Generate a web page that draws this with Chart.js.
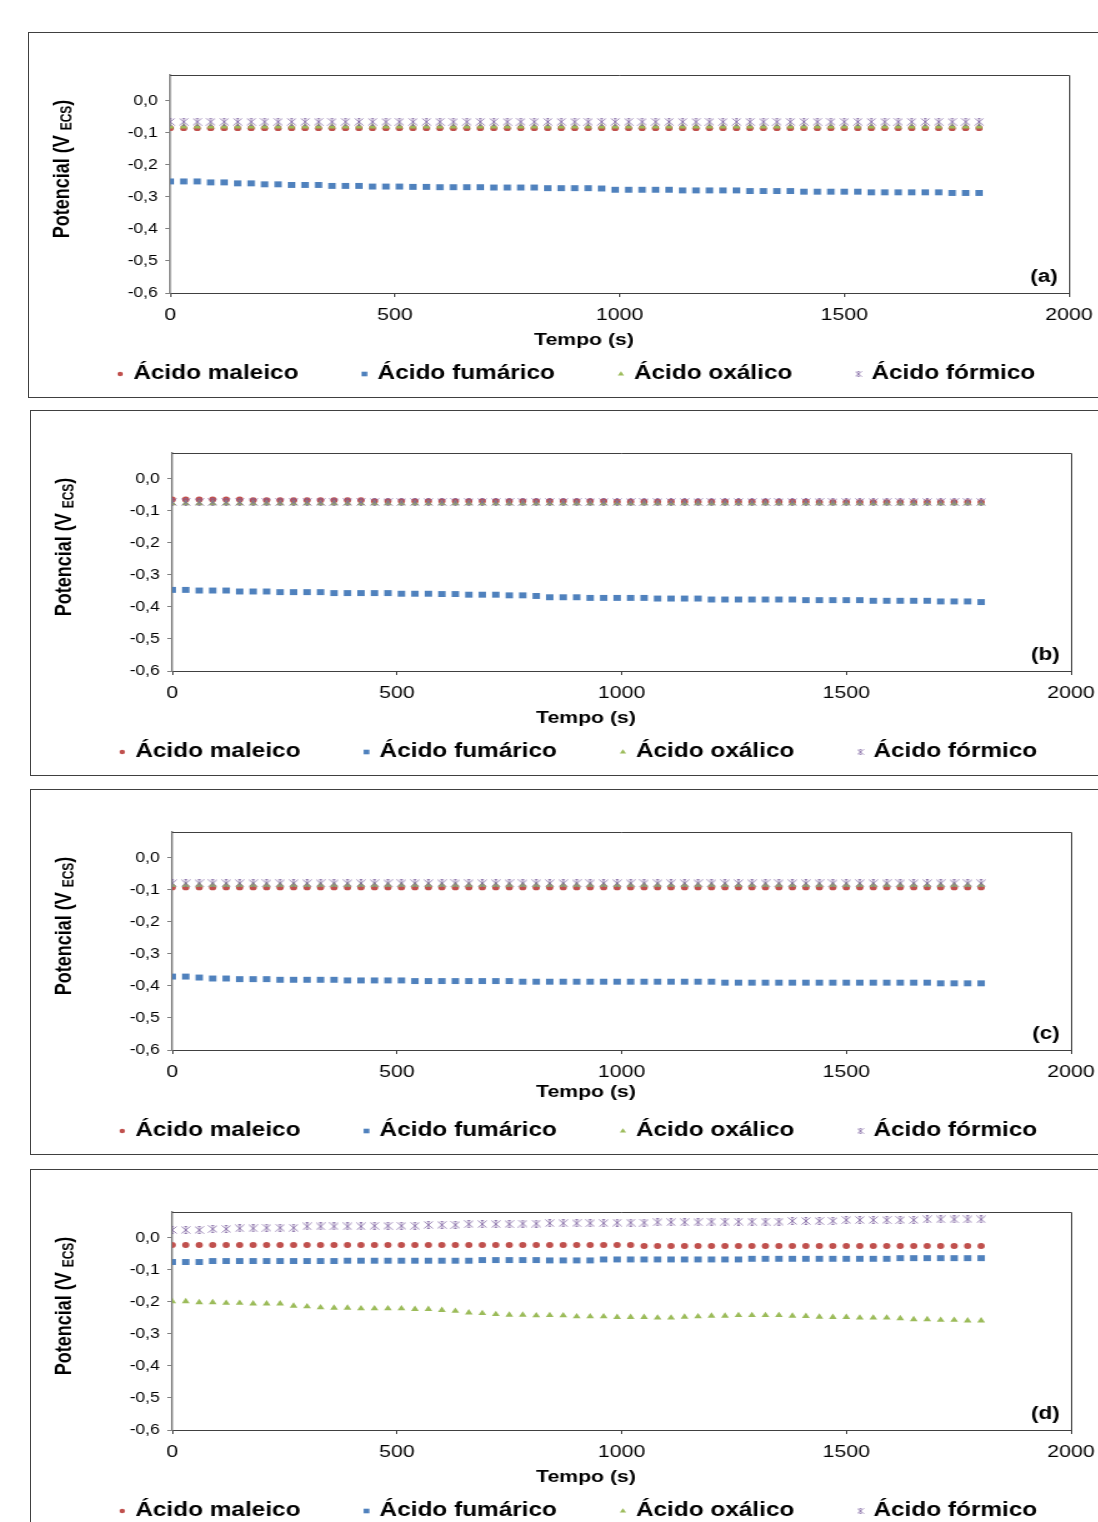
<!DOCTYPE html>
<html>
<head>
<meta charset="utf-8">
<script src="https://cdn.jsdelivr.net/npm/chart.js@4.4.1/dist/chart.umd.min.js"></script>
<style>
  html, body { margin: 0; padding: 0; background: #fff; overflow: hidden; }
  body { width: 1098px; height: 1522px; position: relative; }
  .panel { position: absolute; width: 1080px; height: 364px; border: 1px solid #404040; overflow: hidden; background: #fff; }
  .panel canvas { position: absolute; left: 0; top: 0; }
</style>
</head>
<body>
<div class="panel" style="left:28px;top:32px"><canvas id="chartA" width="864" height="364" style="width:1080px;height:364px"></canvas></div>
<div class="panel" style="left:30px;top:410px"><canvas id="chartB" width="864" height="364" style="width:1080px;height:364px"></canvas></div>
<div class="panel" style="left:30px;top:789px"><canvas id="chartC" width="864" height="364" style="width:1080px;height:364px"></canvas></div>
<div class="panel" style="left:30px;top:1169px"><canvas id="chartD" width="864" height="364" style="width:1080px;height:364px"></canvas></div>
<script>
// tempo (s) – uma leitura a cada 30 s
const tempo = [0, 30, 60, 90, 120, 150, 180, 210, 240, 270, 300, 330, 360, 390, 420, 450, 480, 510, 540, 570,
  600, 630, 660, 690, 720, 750, 780, 810, 840, 870, 900, 930, 960, 990, 1020, 1050, 1080, 1110, 1140, 1170,
  1200, 1230, 1260, 1290, 1320, 1350, 1380, 1410, 1440, 1470, 1500, 1530, 1560, 1590, 1620, 1650, 1680, 1710,
  1740, 1770, 1800];

const seriesNames = ['Ácido maleico', 'Ácido fumárico', 'Ácido oxálico', 'Ácido fórmico'];
const yTicks = [-0.6, -0.5, -0.4, -0.3, -0.2, -0.1, 0.0];
const xTicks = [0, 500, 1000, 1500, 2000];

// (a)
const maleicoA = [-0.086, -0.086, -0.086, -0.086, -0.086, -0.086, -0.086, -0.086, -0.086, -0.086, -0.086, -0.086,
  -0.086, -0.086, -0.086, -0.086, -0.086, -0.086, -0.086, -0.086, -0.086, -0.086, -0.086, -0.086, -0.086, -0.086,
  -0.086, -0.086, -0.086, -0.086, -0.086, -0.086, -0.086, -0.086, -0.086, -0.086, -0.086, -0.086, -0.086, -0.086,
  -0.086, -0.086, -0.086, -0.086, -0.086, -0.086, -0.086, -0.086, -0.086, -0.086, -0.086, -0.086, -0.086, -0.086,
  -0.086, -0.086, -0.086, -0.086, -0.086, -0.086, -0.086];
const fumaricoA = [-0.252, -0.252, -0.252, -0.255, -0.255, -0.258, -0.258, -0.261, -0.261, -0.263, -0.263, -0.263,
  -0.266, -0.266, -0.266, -0.268, -0.268, -0.268, -0.269, -0.269, -0.270, -0.270, -0.270, -0.270, -0.271, -0.271,
  -0.271, -0.271, -0.273, -0.273, -0.273, -0.273, -0.274, -0.278, -0.278, -0.278, -0.278, -0.278, -0.280, -0.280,
  -0.280, -0.280, -0.280, -0.282, -0.282, -0.282, -0.282, -0.284, -0.284, -0.284, -0.284, -0.284, -0.286, -0.286,
  -0.286, -0.286, -0.286, -0.286, -0.288, -0.288, -0.288];
const oxalicoA = [-0.081, -0.081, -0.081, -0.081, -0.081, -0.081, -0.081, -0.081, -0.081, -0.081, -0.081, -0.081,
  -0.081, -0.081, -0.081, -0.081, -0.081, -0.081, -0.081, -0.081, -0.081, -0.081, -0.081, -0.081, -0.081, -0.081,
  -0.081, -0.081, -0.081, -0.081, -0.081, -0.081, -0.081, -0.081, -0.081, -0.081, -0.081, -0.081, -0.081, -0.081,
  -0.081, -0.081, -0.081, -0.081, -0.081, -0.081, -0.081, -0.081, -0.081, -0.081, -0.081, -0.081, -0.081, -0.081,
  -0.081, -0.081, -0.081, -0.081, -0.081, -0.081, -0.081];
const formicoA = [-0.066, -0.066, -0.066, -0.066, -0.066, -0.066, -0.066, -0.066, -0.066, -0.066, -0.066, -0.066,
  -0.066, -0.066, -0.066, -0.066, -0.066, -0.066, -0.066, -0.066, -0.066, -0.066, -0.066, -0.066, -0.066, -0.066,
  -0.066, -0.066, -0.066, -0.066, -0.066, -0.066, -0.066, -0.066, -0.066, -0.066, -0.066, -0.066, -0.066, -0.066,
  -0.066, -0.066, -0.066, -0.066, -0.066, -0.066, -0.066, -0.066, -0.066, -0.066, -0.066, -0.066, -0.066, -0.066,
  -0.066, -0.066, -0.066, -0.066, -0.066, -0.066, -0.066];

// (b)
const maleicoB = [-0.065, -0.065, -0.065, -0.065, -0.065, -0.065, -0.067, -0.067, -0.067, -0.067, -0.067, -0.067,
  -0.067, -0.067, -0.067, -0.070, -0.070, -0.070, -0.070, -0.070, -0.070, -0.070, -0.070, -0.070, -0.070, -0.070,
  -0.070, -0.070, -0.070, -0.070, -0.070, -0.070, -0.070, -0.072, -0.072, -0.072, -0.072, -0.072, -0.072, -0.072,
  -0.072, -0.072, -0.072, -0.072, -0.072, -0.072, -0.072, -0.072, -0.073, -0.073, -0.073, -0.073, -0.073, -0.073,
  -0.073, -0.073, -0.073, -0.073, -0.073, -0.073, -0.073];
const fumaricoB = [-0.347, -0.347, -0.349, -0.349, -0.349, -0.352, -0.352, -0.352, -0.354, -0.354, -0.354, -0.354,
  -0.357, -0.357, -0.357, -0.357, -0.357, -0.359, -0.359, -0.359, -0.360, -0.360, -0.362, -0.362, -0.362, -0.364,
  -0.364, -0.366, -0.370, -0.370, -0.370, -0.372, -0.372, -0.372, -0.372, -0.372, -0.374, -0.374, -0.374, -0.374,
  -0.377, -0.377, -0.377, -0.377, -0.377, -0.377, -0.377, -0.379, -0.379, -0.379, -0.379, -0.379, -0.381, -0.381,
  -0.381, -0.381, -0.381, -0.383, -0.383, -0.383, -0.385];
const oxalicoB = [-0.077, -0.077, -0.077, -0.077, -0.077, -0.077, -0.077, -0.077, -0.077, -0.077, -0.077, -0.077,
  -0.077, -0.077, -0.077, -0.077, -0.077, -0.077, -0.077, -0.077, -0.077, -0.077, -0.077, -0.077, -0.077, -0.077,
  -0.077, -0.077, -0.077, -0.077, -0.077, -0.077, -0.077, -0.077, -0.077, -0.077, -0.077, -0.077, -0.077, -0.077,
  -0.077, -0.077, -0.077, -0.077, -0.077, -0.077, -0.077, -0.077, -0.077, -0.077, -0.077, -0.077, -0.077, -0.077,
  -0.077, -0.077, -0.077, -0.077, -0.077, -0.077, -0.077];
const formicoB = [-0.073, -0.073, -0.073, -0.073, -0.073, -0.073, -0.073, -0.073, -0.073, -0.073, -0.073, -0.073,
  -0.073, -0.073, -0.073, -0.073, -0.073, -0.073, -0.073, -0.073, -0.073, -0.073, -0.073, -0.073, -0.073, -0.073,
  -0.073, -0.073, -0.073, -0.073, -0.073, -0.073, -0.073, -0.073, -0.073, -0.073, -0.073, -0.073, -0.073, -0.073,
  -0.073, -0.073, -0.073, -0.073, -0.073, -0.073, -0.073, -0.073, -0.073, -0.073, -0.073, -0.073, -0.073, -0.073,
  -0.073, -0.073, -0.073, -0.073, -0.073, -0.073, -0.073];

// (c)
const maleicoC = [-0.093, -0.093, -0.093, -0.093, -0.093, -0.093, -0.093, -0.093, -0.093, -0.093, -0.093, -0.093,
  -0.093, -0.093, -0.093, -0.093, -0.093, -0.093, -0.093, -0.093, -0.093, -0.093, -0.093, -0.093, -0.093, -0.093,
  -0.093, -0.093, -0.093, -0.093, -0.093, -0.093, -0.093, -0.093, -0.093, -0.093, -0.093, -0.093, -0.093, -0.093,
  -0.093, -0.093, -0.093, -0.093, -0.093, -0.093, -0.093, -0.093, -0.093, -0.093, -0.093, -0.093, -0.093, -0.093,
  -0.093, -0.093, -0.093, -0.093, -0.093, -0.093, -0.093];
const fumaricoC = [-0.371, -0.371, -0.374, -0.377, -0.377, -0.379, -0.379, -0.379, -0.381, -0.381, -0.381, -0.381,
  -0.381, -0.383, -0.383, -0.383, -0.383, -0.383, -0.385, -0.385, -0.385, -0.385, -0.385, -0.385, -0.385, -0.385,
  -0.387, -0.387, -0.387, -0.387, -0.387, -0.387, -0.387, -0.387, -0.387, -0.387, -0.387, -0.387, -0.387, -0.387,
  -0.387, -0.390, -0.390, -0.390, -0.390, -0.390, -0.390, -0.390, -0.390, -0.390, -0.390, -0.390, -0.390, -0.390,
  -0.390, -0.390, -0.390, -0.392, -0.392, -0.392, -0.392];
const oxalicoC = [-0.086, -0.086, -0.086, -0.086, -0.086, -0.086, -0.086, -0.086, -0.086, -0.086, -0.086, -0.086,
  -0.086, -0.086, -0.086, -0.086, -0.086, -0.086, -0.086, -0.086, -0.086, -0.086, -0.086, -0.086, -0.086, -0.086,
  -0.086, -0.086, -0.086, -0.086, -0.086, -0.086, -0.086, -0.086, -0.086, -0.086, -0.086, -0.086, -0.086, -0.086,
  -0.086, -0.086, -0.086, -0.086, -0.086, -0.086, -0.086, -0.086, -0.086, -0.086, -0.086, -0.086, -0.086, -0.086,
  -0.086, -0.086, -0.086, -0.086, -0.086, -0.086, -0.086];
const formicoC = [-0.080, -0.080, -0.080, -0.080, -0.080, -0.080, -0.080, -0.080, -0.080, -0.080, -0.080, -0.080,
  -0.080, -0.080, -0.080, -0.080, -0.080, -0.080, -0.080, -0.080, -0.080, -0.080, -0.080, -0.080, -0.080, -0.080,
  -0.080, -0.080, -0.080, -0.080, -0.080, -0.080, -0.080, -0.080, -0.080, -0.080, -0.080, -0.080, -0.080, -0.080,
  -0.080, -0.080, -0.080, -0.080, -0.080, -0.080, -0.080, -0.080, -0.080, -0.080, -0.080, -0.080, -0.080, -0.080,
  -0.080, -0.080, -0.080, -0.080, -0.080, -0.080, -0.080];

// (d)
const maleicoD = [-0.023, -0.023, -0.023, -0.023, -0.023, -0.023, -0.023, -0.023, -0.023, -0.023, -0.023, -0.023,
  -0.023, -0.023, -0.023, -0.023, -0.023, -0.023, -0.023, -0.023, -0.023, -0.023, -0.023, -0.023, -0.023, -0.023,
  -0.023, -0.023, -0.023, -0.023, -0.023, -0.023, -0.023, -0.023, -0.023, -0.026, -0.026, -0.026, -0.026, -0.026,
  -0.026, -0.026, -0.026, -0.026, -0.026, -0.026, -0.026, -0.026, -0.026, -0.026, -0.026, -0.026, -0.026, -0.026,
  -0.026, -0.026, -0.026, -0.026, -0.026, -0.026, -0.026];
const fumaricoD = [-0.076, -0.076, -0.076, -0.073, -0.073, -0.073, -0.073, -0.073, -0.073, -0.073, -0.073, -0.073,
  -0.073, -0.072, -0.072, -0.072, -0.072, -0.072, -0.072, -0.072, -0.072, -0.072, -0.072, -0.070, -0.070, -0.070,
  -0.070, -0.070, -0.071, -0.071, -0.071, -0.071, -0.068, -0.068, -0.068, -0.068, -0.068, -0.068, -0.068, -0.068,
  -0.068, -0.068, -0.068, -0.066, -0.066, -0.066, -0.066, -0.066, -0.066, -0.066, -0.066, -0.066, -0.066, -0.066,
  -0.064, -0.064, -0.064, -0.064, -0.064, -0.064, -0.064];
const oxalicoD = [-0.199, -0.199, -0.202, -0.202, -0.204, -0.204, -0.206, -0.206, -0.206, -0.213, -0.215, -0.218,
  -0.219, -0.219, -0.221, -0.221, -0.221, -0.221, -0.223, -0.223, -0.226, -0.229, -0.234, -0.236, -0.239, -0.241,
  -0.241, -0.243, -0.242, -0.243, -0.246, -0.246, -0.246, -0.248, -0.248, -0.248, -0.250, -0.250, -0.247, -0.246,
  -0.244, -0.244, -0.242, -0.242, -0.242, -0.242, -0.244, -0.245, -0.247, -0.248, -0.248, -0.250, -0.250, -0.250,
  -0.252, -0.255, -0.255, -0.257, -0.257, -0.259, -0.259];
const formicoD = [0.024, 0.024, 0.024, 0.027, 0.027, 0.029, 0.029, 0.031, 0.031, 0.031, 0.035, 0.035,
  0.035, 0.035, 0.035, 0.037, 0.037, 0.037, 0.037, 0.040, 0.040, 0.040, 0.042, 0.042, 0.042, 0.042,
  0.044, 0.044, 0.045, 0.045, 0.045, 0.045, 0.045, 0.047, 0.047, 0.047, 0.048, 0.048, 0.048, 0.048,
  0.050, 0.050, 0.050, 0.050, 0.050, 0.050, 0.052, 0.052, 0.052, 0.052, 0.055, 0.055, 0.055, 0.055,
  0.055, 0.055, 0.057, 0.057, 0.057, 0.057, 0.057];

const colors = { maleico: '#C0504D', fumarico: '#4F81BD', oxalico: '#9BBB59', formico: '#8064A2' };
const FONT = '"Liberation Sans", Arial, sans-serif';

// marcador "estrela" do Excel (X + traço vertical + barrinhas)
function makeStar(size, lw) {
  const c = document.createElement('canvas');
  c.width = size; c.height = size;
  const g = c.getContext('2d');
  const m = size - 0.5;
  g.strokeStyle = colors.formico;
  g.lineWidth = lw;
  g.beginPath();
  g.moveTo(0.5, 0.5); g.lineTo(m, m);
  g.moveTo(m, 0.5); g.lineTo(0.5, m);
  g.moveTo(size / 2, 0.5); g.lineTo(size / 2, m);
  g.moveTo(size * 0.35, 0.5); g.lineTo(size * 0.65, 0.5);
  g.moveTo(size * 0.35, m); g.lineTo(size * 0.65, m);
  g.stroke();
  return c;
}
const starPoint = makeStar(8, 0.8);
const starLegend = makeStar(6, 0.7);

function drawLegendMarker(ctx, i, x, y) {
  ctx.save();
  if (i === 0) {
    ctx.fillStyle = colors.maleico;
    ctx.beginPath(); ctx.arc(x, y, 2.2, 0, Math.PI * 2); ctx.fill();
  } else if (i === 1) {
    ctx.fillStyle = colors.fumarico;
    ctx.fillRect(x - 2.3, y - 2.3, 4.6, 4.6);
  } else if (i === 2) {
    ctx.fillStyle = colors.oxalico;
    ctx.beginPath(); ctx.moveTo(x, y - 2.8); ctx.lineTo(x + 2.5, y + 1.6); ctx.lineTo(x - 2.5, y + 1.6); ctx.closePath(); ctx.fill();
  } else {
    ctx.drawImage(starLegend, x - 3, y - 3, 6, 6);
  }
  ctx.restore();
}

const decor = {
  id: 'decor',
  afterDraw(chart, args, o) {
    const ctx = chart.ctx;
    const a = chart.chartArea;
    ctx.save();
    // moldura superior e direita da área de plotagem
    ctx.strokeStyle = '#404040';
    ctx.lineWidth = 1;
    ctx.beginPath();
    ctx.moveTo(a.left, a.top + 0.5); ctx.lineTo(a.right + 0.5, a.top + 0.5);
    ctx.lineTo(a.right + 0.5, a.bottom);
    ctx.stroke();

    ctx.fillStyle = '#000';
    ctx.textBaseline = 'middle';

    // título do eixo Y com índice
    ctx.save();
    ctx.translate(o.yTitleX, o.yTitleY);
    ctx.rotate(-Math.PI / 2);
    const parts = [['Potencial (V ', 'bold 18px ' + FONT, 0], ['ECS', 'bold 12px ' + FONT, 4], [')', 'bold 18px ' + FONT, 0]];
    let total = 0;
    parts.forEach(p => { ctx.font = p[1]; total += ctx.measureText(p[0]).width; });
    let px = -total / 2;
    ctx.textAlign = 'left';
    parts.forEach(p => { ctx.font = p[1]; ctx.fillText(p[0], px, p[2]); px += ctx.measureText(p[0]).width; });
    ctx.restore();

    // título do eixo X
    ctx.font = 'bold 17px ' + FONT;
    ctx.textAlign = 'center';
    ctx.fillText('Tempo (s)', o.xTitleX, o.xTitleY);

    // rótulo do painel
    ctx.font = 'bold 18px ' + FONT;
    ctx.textAlign = 'right';
    ctx.fillText(o.letter, o.letterX, o.letterY);

    // legenda
    ctx.font = 'bold 19.5px ' + FONT;
    ctx.textAlign = 'left';
    const gap = 52.8, mk = 10.4;
    const widths = seriesNames.map(s => ctx.measureText(s).width);
    const full = widths.reduce((s, w) => s + w + mk, 0) + gap * (seriesNames.length - 1);
    let lx = o.legendX - full / 2;
    seriesNames.forEach((s, i) => {
      drawLegendMarker(ctx, i, lx, o.legendY);
      ctx.fillStyle = '#000';
      ctx.fillText(s, lx + mk, o.legendY);
      lx += mk + widths[i] + gap;
    });
    ctx.restore();
  }
};

function pts(vals) {
  return vals.map((v, i) => ({ x: tempo[i], y: v }));
}

function makePanel(id, letter, maleico, fumarico, oxalico, formico, xTitleY) {
  const ds = (label, vals, color, style, radius, order) => ({
    label, data: pts(vals), showLine: false, order,
    pointStyle: style, pointRadius: radius, pointHoverRadius: radius,
    pointBackgroundColor: color, pointBorderColor: color, pointBorderWidth: 0,
    borderColor: color, backgroundColor: color,
  });
  return new Chart(document.getElementById(id), {
    type: 'line',
    data: {
      datasets: [
        ds(seriesNames[0], maleico, colors.maleico, 'circle', 2.9, 4),
        ds(seriesNames[1], fumarico, colors.fumarico, 'rect', 4.2, 3),
        ds(seriesNames[2], oxalico, colors.oxalico, 'triangle', 3.6, 2),
        ds(seriesNames[3], formico, colors.formico, starPoint, 4, 1),
      ],
    },
    options: {
      responsive: false,
      animation: false,
      devicePixelRatio: 1,
      layout: { padding: { top: 42, right: 32, bottom: 0, left: 0 } },
      plugins: {
        legend: { display: false },
        tooltip: { enabled: false },
        decor: {
          letter, letterX: 823, letterY: 244,
          yTitleX: 27, yTitleY: 136,
          xTitleX: 444, xTitleY: xTitleY,
          legendX: 439, legendY: 341,
        },
      },
      scales: {
        x: {
          type: 'linear', min: 0, max: 2000,
          afterBuildTicks: s => { s.ticks = xTicks.map(v => ({ value: v })); },
          afterFit: s => { s.height = 104; },
          grid: { drawOnChartArea: false, drawTicks: true, tickLength: 4, color: '#404040' },
          border: { display: true, color: '#404040', width: 1 },
          ticks: { color: '#000', font: { family: FONT, size: 17 }, padding: 8, maxRotation: 0, callback: v => String(v) },
        },
        y: {
          type: 'linear', min: -0.6, max: 0.08,
          afterBuildTicks: s => { s.ticks = yTicks.map(v => ({ value: v })); },
          afterFit: s => { s.width = 113; },
          grid: { drawOnChartArea: false, drawTicks: true, tickLength: 4, color: '#808080' },
          border: { display: true, color: '#808080', width: 1.5 },
          ticks: {
            color: '#000', font: { family: FONT, size: 14 }, padding: 6,
            callback: v => (Math.abs(v) < 1e-9 ? 0 : v).toFixed(1).replace('.', ','),
          },
        },
      },
    },
    plugins: [decor],
  });
}

makePanel('chartA', '(a)', maleicoA, fumaricoA, oxalicoA, formicoA, 307);
makePanel('chartB', '(b)', maleicoB, fumaricoB, oxalicoB, formicoB, 307);
makePanel('chartC', '(c)', maleicoC, fumaricoC, oxalicoC, formicoC, 302);
makePanel('chartD', '(d)', maleicoD, fumaricoD, oxalicoD, formicoD, 307);
</script>
</body>
</html>
